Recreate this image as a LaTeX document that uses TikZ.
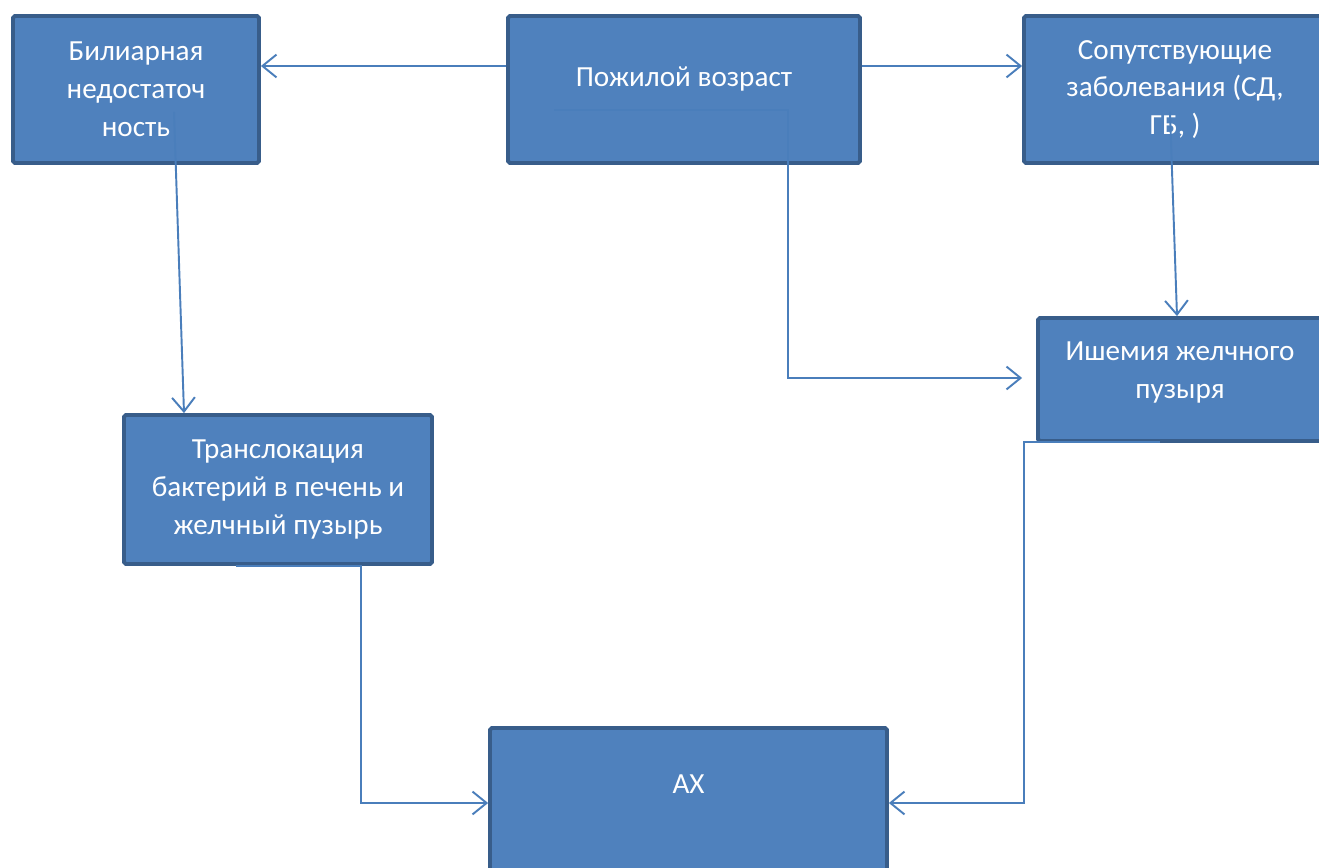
\documentclass[tikz,border=0pt]{standalone}
\usepackage{fontspec}
\setmainfont{Carlito}
\usetikzlibrary{arrows.meta,calc}

\definecolor{boxfill}{HTML}{4F81BD}
\definecolor{boxline}{HTML}{385D8A}
\definecolor{linkcol}{HTML}{4A7EBB}

\tikzset{
	block/.style={draw=boxline, fill=boxfill, line width=2.2pt, rounded corners=1pt,
		text=white, align=center, inner sep=0pt,
		font=\fontsize{16.6}{21.5}\selectfont},
	link/.style={draw=linkcol, line width=1.1pt},
	arr/.style={link, -{Straight Barb[length=8pt,width=13pt,line width=1.1pt]}}
}

\begin{document}
\begin{tikzpicture}[x=0.02cm,y=-0.02cm]

	\useasboundingbox (0,0) rectangle (1319,868);
	\clip (0,0) rectangle (1319,868);

	% Bloecke
	\node[block, minimum width=4.92cm, minimum height=2.94cm] (bil) at (136,89.5) {Билиарная\\недостаточ\\ность};
	\node[block, minimum width=7.04cm, minimum height=2.94cm] (pozh) at (684,89.5) {Пожилой возраст\\[-7pt]\mbox{}};
	\node[block, minimum width=6.04cm, minimum height=2.94cm] (sop) at (1175,89.5) {Сопутствующие\\заболевания (СД,\\ГБ, )};
	\node[block, minimum width=5.68cm, minimum height=2.46cm] (ish) at (1180,379.5) {Ишемия желчного\\пузыря\\[-11pt]\mbox{}};
	\node[block, minimum width=6.16cm, minimum height=2.98cm] (tra) at (278,489.5) {Транслокация\\бактерий в печень и\\желчный пузырь};
	\node[block, minimum width=7.94cm, minimum height=3.76cm] (ach) at (688.5,822) {АХ\\\mbox{}\\\mbox{}};

	% Startpunkte innerhalb der Bloecke
	\coordinate (bilout) at (174,112);
	\coordinate (sopout) at (1170,112);
	\coordinate (pozhout) at (554,110);
	\coordinate (traout) at (236,566);
	\coordinate (ishout) at (1160,442);

	% Pfeile oben
	\draw[arr] (pozh.west |- 0,66) -- (bil.east |- 0,66);
	\draw[arr] (pozh.east |- 0,66) -- (sop.west |- 0,66);

	% schraege Pfeile
	\draw[arr] (bilout) -- (tra.north -| 184,0);
	\draw[arr] (sopout) -- (ish.north -| 1177,0);

	% Pfeil zur Ischaemie
	\draw[arr] (pozhout) -- (pozhout -| 788,0) |- ($(ish.west |- 0,378)+(-14,0)$);

	% Pfeile zum AX
	\draw[arr] (traout) -- (traout -| 361,0) |- (ach.west |- 0,803);
	\draw[arr] (ishout) -- (ishout -| 1024,0) |- (ach.east |- 0,803);

\end{tikzpicture}
\end{document}
